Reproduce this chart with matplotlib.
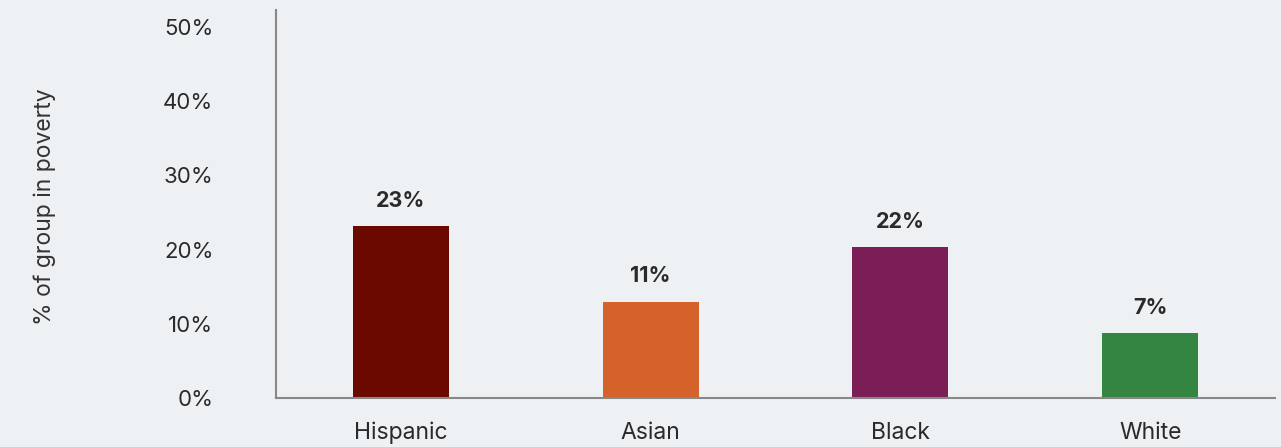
import numpy as np
import matplotlib.pyplot as plt

groups = ['Hispanic', 'Asian', 'Black', 'White']
bar_heights = [23.2, 13.0, 20.3, 8.7]
bar_labels = ['23%', '11%', '22%', '7%']
colors = ['#6b0900', '#d4622a', '#7b1e58', '#348541']
yticks = [0, 10, 20, 30, 40, 50]

plt.rcParams['font.family'] = ['Inter', 'DejaVu Sans']
bg = '#edf1f4'
txt = '#2a2a2a'

fig = plt.figure(figsize=(12.81, 4.47), dpi=100, facecolor=bg)
ax = fig.add_axes([276/1281, 49/447, 999/1281, 388/447], facecolor=bg)

x = np.arange(len(groups))
bars = ax.bar(x, bar_heights, width=0.384, color=colors)

# value labels above the bars
for b, lab in zip(bars, bar_labels):
    ax.annotate(lab, (b.get_x() + b.get_width()/2, b.get_height()),
                xytext=(0, 11), textcoords='offset points',
                ha='center', va='bottom', fontsize=15.5, fontweight='bold', color=txt)

ax.set_xlim(-0.5, 3.5)
ax.set_ylim(0, 52.3)
ax.set_xticks(x)
ax.set_xticklabels(groups, fontsize=16.5, color=txt)
ax.set_yticks(yticks)
ax.set_yticklabels([f'{t}%' for t in yticks], fontsize=16, color=txt)
ax.tick_params(axis='both', length=0)
ax.tick_params(axis='y', pad=45)
ax.tick_params(axis='x', pad=17)

for s in ['top', 'right']:
    ax.spines[s].set_visible(False)
for s in ['left', 'bottom']:
    ax.spines[s].set_color('#888888')
    ax.spines[s].set_linewidth(1.5)

fig.text(45/1281, 1 - 207/447, '% of group in poverty', rotation=90,
         ha='center', va='center', fontsize=16.5, color='#333333')

fig.savefig('out.png', dpi=100, facecolor=bg)
